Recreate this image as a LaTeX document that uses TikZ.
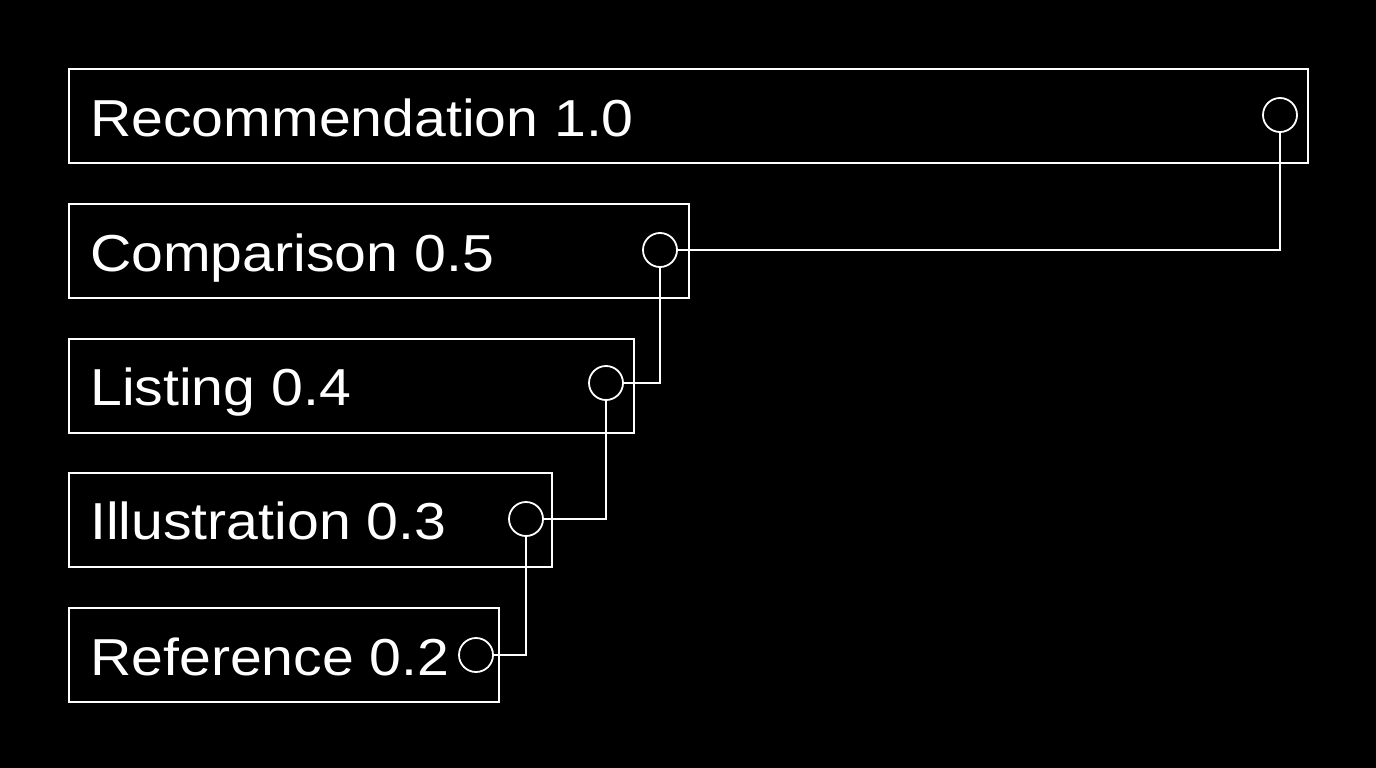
\documentclass[tikz,border=0pt]{standalone}
\usepackage{fontspec}
\setmainfont[FakeStretch=1.1]{Liberation Sans}
\begin{document}
\begin{tikzpicture}[x=1pt,y=-1pt,
  box/.style={draw=white,line width=1.8pt,minimum width=#1,minimum height=94pt,anchor=north west,inner sep=0pt},
  lbl/.style={text=white,anchor=base west,font=\fontsize{52}{60}\selectfont,inner sep=0pt},
  dot/.style={draw=white,line width=1.8pt,circle,minimum size=34pt,inner sep=0pt},
  wire/.style={draw=white,line width=1.8pt}]
\fill[black] (0,0) rectangle (1376,768);
\useasboundingbox (0,0) rectangle (1376,768);
\node[box=1239pt] (b1) at (68,68) {};
\node[box=620pt] (b2) at (68,203) {};
\node[box=565pt] (b3) at (68,338) {};
\node[box=483pt] (b4) at (68,472) {};
\node[box=430pt] (b5) at (68,607) {};
\node[lbl] (t1) at (90,136) {Recommendation 1.0};
\node[lbl] (t2) at (90,271) {Comparison 0.5};
\node[lbl] (t3) at (90,405) {Listing 0.4};
\node[lbl] (t4) at (90,539) {Illustration 0.3};
\node[lbl] (t5) at (90,675) {Reference 0.2};
\node[dot] (c1) at (1280,115) {};
\node[dot] (c2) at (660,250) {};
\node[dot] (c3) at (606,383) {};
\node[dot] (c4) at (526,519) {};
\node[dot] (c5) at (476,655) {};
\draw[wire] (c1.south) |- (c2.east);
\draw[wire] (c2.south) |- (c3.east);
\draw[wire] (c3.south) |- (c4.east);
\draw[wire] (c4.south) |- (c5.east);
\end{tikzpicture}
\end{document}
